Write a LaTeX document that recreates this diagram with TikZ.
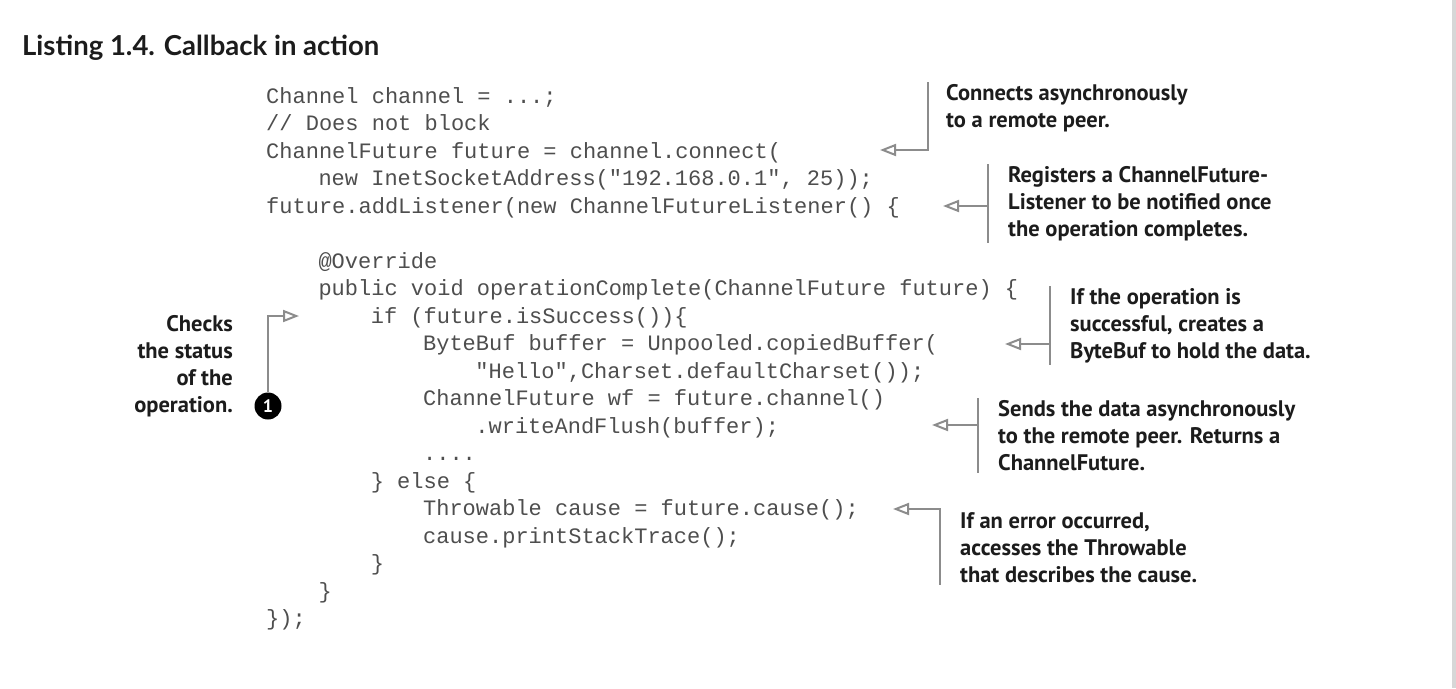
\documentclass[tikz,border=0pt]{standalone}
\usepackage{fontspec}
\setmonofont{Liberation Mono}
\newfontfamily\notefont{PT Sans}
\newfontfamily\titlefont{Lato}
\usetikzlibrary{arrows.meta, positioning, calc}
\definecolor{CodeGray}{RGB}{78,78,78}
\definecolor{NoteInk}{RGB}{28,28,28}
\definecolor{LineGray}{RGB}{140,140,140}
\definecolor{EdgeGray}{RGB}{215,215,215}

\tikzset{
  codeline/.style={anchor=base west, inner sep=0pt, font=\fontsize{22pt}{22pt}\selectfont\ttfamily, text=CodeGray},
  note/.style={anchor=north west, align=left, inner xsep=0pt, inner ysep=2pt, font=\fontsize{22.5pt}{27pt}\selectfont\notefont\bfseries, text=NoteInk},
  bar/.style={draw=LineGray, line width=2pt},
  callout/.style={bar, -{Triangle[open, length=16pt, width=12pt]}},
}

\begin{document}
\begin{tikzpicture}[x=1pt, y=-1pt]
        \useasboundingbox (0,0) rectangle (1456,688);
        \fill[white] (0,0) rectangle (1456,688);
        \fill[EdgeGray] (1452,0) rectangle (1456,688);

        \node[anchor=west, inner sep=0pt, font=\fontsize{27.5pt}{27.5pt}\selectfont\titlefont\bfseries, text=NoteInk] (title) at (22,48) {Listing 1.4. Callback in action};

        % the listing, one node per line
        \foreach \j/\lvl/\txt in {0/0/{Channel channel = ...;},
                1/0/{// Does not block},
                2/0/{ChannelFuture future = channel.connect(},
                3/1/{new InetSocketAddress("192.168.0.1", 25));},
                4/0/{future.addListener(new ChannelFutureListener() \{},
                6/1/{@Override},
                7/1/{public void operationComplete(ChannelFuture future) \{},
                8/2/{if (future.isSuccess())\{},
                9/3/{ByteBuf buffer = Unpooled.copiedBuffer(},
                10/4/{"Hello",Charset.defaultCharset());},
                11/3/{ChannelFuture wf = future.channel()},
                12/4/{.writeAndFlush(buffer);},
                13/3/{....},
                14/2/{\} else \{},
                15/3/{Throwable cause = future.cause();},
                16/3/{cause.printStackTrace();},
                17/2/{\}},
                18/1/{\}},
                19/0/{\});}}
        {
            \node[codeline] (c\j) at (266+52.3*\lvl, 103+27.5*\j) {\txt};
        }

        % annotations
        \node[note] (a1) at (946,82) {Connects asynchronously\\to a remote peer.};
        \node[note] (a2) at (1008,164) {Registers a ChannelFuture-\\Listener to be notified once\\the operation completes.};
        \node[note] (a3) at (1070,286) {If the operation is\\successful, creates a\\ByteBuf to hold the data.};
        \node[note] (a4) at (998,398) {Sends the data asynchronously\\to the remote peer. Returns a\\ChannelFuture.};
        \node[note] (a5) at (960,510) {If an error occurred,\\accesses the Throwable\\that describes the cause.};
        \node[note, anchor=north east, align=right] (a6) at (233,313) {Checks\\the status\\of the\\operation.};
        \node[circle, fill=black, text=white, inner sep=0pt, minimum size=27pt, font=\fontsize{18pt}{18pt}\selectfont\notefont\bfseries] (n1) at (268,406) {1};

        % arrow tips
        \coordinate (t1) at (880,150);
        \coordinate (t2) at (943,206);
        \coordinate (t3) at (1005,344);
        \coordinate (t4) at (932,425);
        \coordinate (t5) at (893,509);
        \coordinate (t6) at (299,316);

        \draw[callout] ([xshift=-18pt]a1.north west) |- (t1);
        \draw[bar] ([xshift=-20pt]a2.north west) coordinate (b2) -- ([xshift=-20pt]a2.south west);
        \draw[callout] (b2 |- t2) -- (t2);
        \draw[bar] ([xshift=-20pt]a3.north west) coordinate (b3) -- ([xshift=-20pt]a3.south west);
        \draw[callout] (b3 |- t3) -- (t3);
        \draw[bar] ([xshift=-20pt]a4.north west) coordinate (b4) -- ([xshift=-20pt]a4.south west);
        \draw[callout] (b4 |- t4) -- (t4);
        \draw[callout] ([xshift=-20pt]a5.south west) |- (t5);
        \draw[callout] (n1.north) |- (t6);
\end{tikzpicture}
\end{document}
